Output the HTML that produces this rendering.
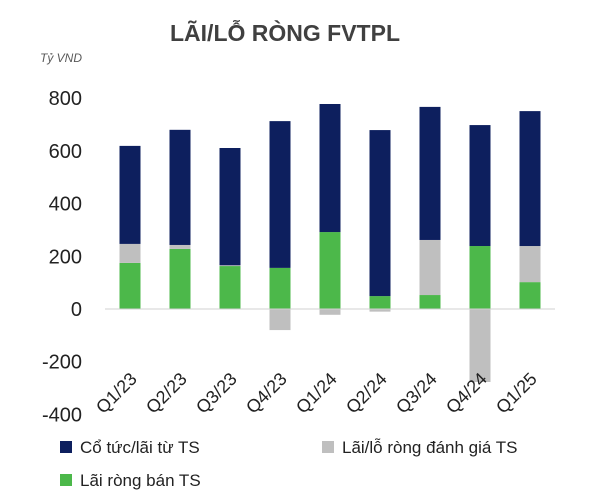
<!DOCTYPE html>
<html><head><meta charset="utf-8"><style>
body{margin:0;background:#fff;}
svg{font-family:"Liberation Sans","DejaVu Sans",sans-serif;}
</style></head><body>
<svg id="chart" width="602" height="492" viewBox="0 0 602 492" xmlns="http://www.w3.org/2000/svg">
<text x="285" y="41" text-anchor="middle" font-size="23" font-weight="bold" fill="#404040">LÃI/LỖ RÒNG FVTPL</text>
<text x="40" y="62" font-size="12" font-style="italic" fill="#595959">Tỷ VND</text>
<g id="yaxis"></g>
<g id="bars"></g>
<g id="xaxis"></g>
<g font-size="17" fill="#222">
<rect x="60" y="441" width="12" height="12" fill="#0d1f5e"/>
<text x="80" y="453">Cổ tức/lãi từ TS</text>
<rect x="322" y="441" width="12" height="12" fill="#bfbfbf"/>
<text x="342" y="453">Lãi/lỗ ròng đánh giá TS</text>
<rect x="60" y="474" width="12" height="12" fill="#4cb84a"/>
<text x="80" y="486">Lãi ròng bán TS</text>
</g>
</svg>
<script>
const categories=["Q1/23","Q2/23","Q3/23","Q4/23","Q1/24","Q2/24","Q3/24","Q4/24","Q1/25"];
const saleGain=[175,228,163,156,292,49,53,239,102];
const revaluation=[72,15,3,-80,-22,-10,209,-277,137];
const dividends=[372,437,445,557,486,630,505,459,512];
const yTicks=[-400,-200,0,200,400,600,800];
const NS="http://www.w3.org/2000/svg";
const y0=309, pxPer=52.7/200;
function y(v){return y0-v*pxPer;}
function x(i){return 130+i*50;}
function mk(tag,attrs,parent){const e=document.createElementNS(NS,tag);for(const k in attrs)e.setAttribute(k,attrs[k]);parent.appendChild(e);return e;}
const ya=document.getElementById('yaxis');
yTicks.forEach(t=>{const e=mk('text',{x:82,y:y(t)+7,'text-anchor':'end','font-size':20,fill:'#222'},ya);


e.textContent=t;});
const bars=document.getElementById('bars');
const bw=21;
categories.forEach((c,i)=>{
 const cx=x(i);
 let pos=0, neg=0;
 function seg(v,color,name){
  let top,h;
  if(v>=0){top=y(pos+v);h=y(pos)-top;pos+=v;}else{top=y(neg);h=y(neg+v)-top;neg+=v;}
  const r=mk('rect',{x:cx-bw/2,y:top,width:bw,height:h,fill:color},bars);
  
  
 }
 seg(saleGain[i],'#4cb84a','bar-sale-'+c);
 seg(revaluation[i],'#bfbfbf','bar-revaluation-'+c);
 seg(dividends[i],'#0d1f5e','bar-dividends-'+c);
});
const xa=document.getElementById('xaxis');
const ln=mk('line',{x1:105,x2:555,y1:y0,y2:y0,stroke:'#d0d0d0','stroke-width':1},xa);


categories.forEach((c,i)=>{
 const tx=x(i)+8, ty=380;
 const t=mk('text',{x:tx,y:ty,'text-anchor':'end','font-size':18,fill:'#222',transform:`rotate(-45 ${tx} ${ty})`},xa);
 
 
 t.textContent=c;
});
</script>
</body></html>
